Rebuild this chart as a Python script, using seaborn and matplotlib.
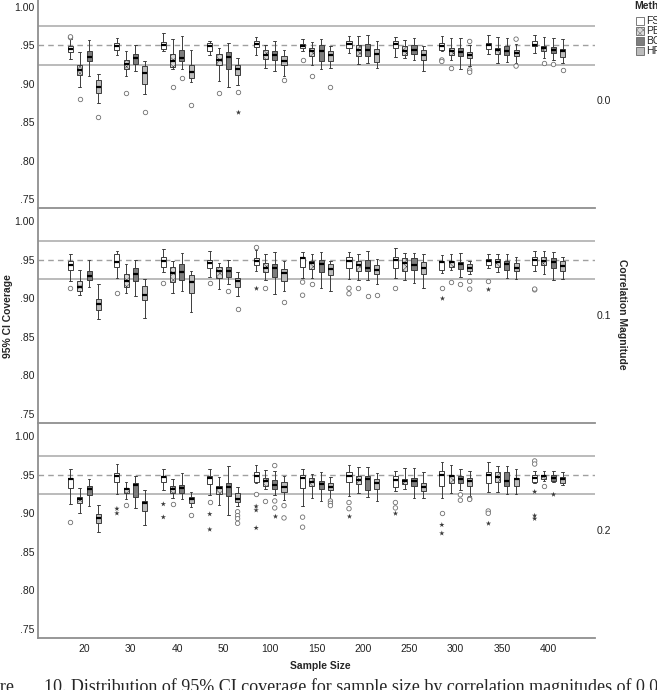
import numpy as np
import pandas as pd
import seaborn as sns
import matplotlib.pyplot as plt
from matplotlib.patches import Patch
from matplotlib.colors import to_rgba

sizes = ['20', '30', '40', '50', '100', '150', '200', '250', '300', '350', '400']
methods = ['FS', 'PB', 'BC', 'HP']
corr_labels = ['0.0', '0.1', '0.2']

# each box: (whisker low, q1, median, q3, whisker high), one per sample size
r00_fs = [(0.932, 0.941, 0.945, 0.949, 0.958), (0.937, 0.944, 0.949, 0.953, 0.959), (0.942, 0.945, 0.950, 0.954, 0.966),
          (0.938, 0.942, 0.949, 0.953, 0.956), (0.938, 0.948, 0.952, 0.955, 0.961), (0.942, 0.946, 0.949, 0.952, 0.958),
          (0.940, 0.947, 0.952, 0.955, 0.962), (0.935, 0.946, 0.952, 0.955, 0.961), (0.942, 0.944, 0.949, 0.953, 0.962),
          (0.939, 0.945, 0.950, 0.953, 0.964), (0.940, 0.949, 0.951, 0.955, 0.963)]
r00_pb = [(0.896, 0.911, 0.918, 0.925, 0.941), (0.910, 0.919, 0.926, 0.931, 0.942), (0.919, 0.922, 0.929, 0.939, 0.958),
          (0.903, 0.924, 0.931, 0.939, 0.947), (0.921, 0.932, 0.938, 0.944, 0.951), (0.925, 0.936, 0.942, 0.947, 0.954),
          (0.926, 0.936, 0.944, 0.950, 0.962), (0.933, 0.938, 0.943, 0.949, 0.957), (0.931, 0.938, 0.943, 0.947, 0.960),
          (0.927, 0.939, 0.944, 0.947, 0.961), (0.934, 0.942, 0.946, 0.949, 0.961)]
r00_bc = [(0.910, 0.929, 0.935, 0.943, 0.957), (0.917, 0.926, 0.933, 0.939, 0.951), (0.919, 0.930, 0.934, 0.944, 0.962),
          (0.896, 0.919, 0.935, 0.941, 0.953), (0.916, 0.931, 0.938, 0.943, 0.955), (0.919, 0.930, 0.942, 0.950, 0.958),
          (0.927, 0.936, 0.944, 0.952, 0.963), (0.931, 0.939, 0.944, 0.950, 0.959), (0.919, 0.936, 0.941, 0.947, 0.959),
          (0.928, 0.938, 0.942, 0.949, 0.959), (0.931, 0.940, 0.944, 0.948, 0.960)]
r00_hp = [(0.875, 0.888, 0.896, 0.905, 0.913), (0.887, 0.900, 0.914, 0.923, 0.929), (0.902, 0.907, 0.915, 0.924, 0.944),
          (0.898, 0.911, 0.919, 0.925, 0.934), (0.910, 0.924, 0.930, 0.936, 0.944), (0.921, 0.929, 0.937, 0.942, 0.949),
          (0.920, 0.928, 0.939, 0.945, 0.955), (0.916, 0.931, 0.938, 0.944, 0.949), (0.923, 0.933, 0.937, 0.941, 0.950),
          (0.927, 0.936, 0.940, 0.944, 0.952), (0.927, 0.935, 0.942, 0.945, 0.958)]
r00_out = [('20', 'FS', 0.960), ('20', 'FS', 0.961), ('20', 'PB', 0.880), ('20', 'HP', 0.857),
           ('30', 'PB', 0.888), ('30', 'HP', 0.864), ('40', 'PB', 0.896), ('40', 'BC', 0.908), ('40', 'HP', 0.873),
           ('50', 'PB', 0.888), ('50', 'HP', 0.889), ('100', 'HP', 0.905),
           ('150', 'FS', 0.931), ('150', 'PB', 0.910), ('150', 'HP', 0.896),
           ('300', 'FS', 0.931), ('300', 'FS', 0.929), ('300', 'PB', 0.920), ('300', 'HP', 0.955),
           ('300', 'HP', 0.918), ('300', 'HP', 0.915), ('350', 'HP', 0.958), ('350', 'HP', 0.923),
           ('400', 'PB', 0.927), ('400', 'BC', 0.926), ('400', 'HP', 0.918)]
r00_ext = [('50', 'HP', 0.864)]

r01_fs = [(0.923, 0.937, 0.943, 0.948, 0.957), (0.926, 0.941, 0.947, 0.958, 0.962), (0.934, 0.941, 0.949, 0.953, 0.964),
          (0.928, 0.940, 0.946, 0.950, 0.961), (0.935, 0.943, 0.948, 0.952, 0.963), (0.926, 0.941, 0.952, 0.954, 0.960),
          (0.925, 0.939, 0.948, 0.953, 0.960), (0.926, 0.939, 0.950, 0.954, 0.965), (0.933, 0.937, 0.947, 0.949, 0.956),
          (0.939, 0.943, 0.948, 0.951, 0.957), (0.936, 0.943, 0.950, 0.954, 0.962)]
r01_pb = [(0.904, 0.910, 0.915, 0.922, 0.937), (0.907, 0.915, 0.923, 0.931, 0.944), (0.907, 0.921, 0.933, 0.941, 0.949),
          (0.912, 0.927, 0.936, 0.941, 0.946), (0.924, 0.934, 0.939, 0.946, 0.958), (0.927, 0.938, 0.946, 0.949, 0.957),
          (0.924, 0.935, 0.943, 0.949, 0.958), (0.924, 0.936, 0.946, 0.952, 0.959), (0.937, 0.941, 0.947, 0.949, 0.958),
          (0.934, 0.941, 0.947, 0.951, 0.958), (0.931, 0.943, 0.949, 0.954, 0.961)]
r01_bc = [(0.915, 0.924, 0.929, 0.935, 0.950), (0.903, 0.923, 0.932, 0.939, 0.950), (0.909, 0.924, 0.934, 0.944, 0.959),
          (0.918, 0.928, 0.936, 0.941, 0.950), (0.906, 0.928, 0.939, 0.945, 0.960), (0.913, 0.934, 0.945, 0.950, 0.960),
          (0.924, 0.935, 0.939, 0.950, 0.962), (0.920, 0.937, 0.943, 0.952, 0.959), (0.928, 0.938, 0.944, 0.947, 0.959),
          (0.926, 0.937, 0.944, 0.949, 0.958), (0.924, 0.939, 0.947, 0.952, 0.960)]
r01_hp = [(0.873, 0.885, 0.893, 0.899, 0.919), (0.875, 0.898, 0.904, 0.916, 0.925), (0.882, 0.907, 0.921, 0.930, 0.936),
          (0.903, 0.915, 0.923, 0.926, 0.934), (0.910, 0.923, 0.933, 0.938, 0.949), (0.909, 0.930, 0.938, 0.944, 0.949),
          (0.919, 0.932, 0.937, 0.943, 0.951), (0.914, 0.932, 0.940, 0.947, 0.957), (0.931, 0.935, 0.940, 0.944, 0.949),
          (0.925, 0.936, 0.940, 0.946, 0.954), (0.925, 0.936, 0.942, 0.949, 0.954)]
r01_out = [('20', 'FS', 0.914), ('30', 'FS', 0.907), ('40', 'FS', 0.920), ('50', 'FS', 0.920), ('50', 'BC', 0.909),
           ('50', 'HP', 0.886), ('100', 'FS', 0.966), ('100', 'PB', 0.914), ('100', 'HP', 0.895),
           ('150', 'FS', 0.921), ('150', 'FS', 0.904), ('150', 'PB', 0.919),
           ('200', 'FS', 0.913), ('200', 'FS', 0.906), ('200', 'PB', 0.913), ('200', 'BC', 0.903), ('200', 'HP', 0.904),
           ('250', 'FS', 0.913), ('300', 'FS', 0.914), ('300', 'PB', 0.921), ('300', 'BC', 0.919),
           ('300', 'HP', 0.922), ('300', 'HP', 0.912), ('350', 'FS', 0.922), ('400', 'FS', 0.911), ('400', 'FS', 0.912)]
r01_ext = [('100', 'FS', 0.913), ('300', 'FS', 0.900), ('350', 'FS', 0.912)]

r02_fs = [(0.912, 0.933, 0.944, 0.946, 0.957), (0.925, 0.941, 0.948, 0.952, 0.964), (0.930, 0.941, 0.947, 0.949, 0.958),
          (0.924, 0.938, 0.946, 0.949, 0.958), (0.939, 0.941, 0.948, 0.953, 0.963), (0.910, 0.933, 0.946, 0.950, 0.958),
          (0.923, 0.941, 0.948, 0.953, 0.963), (0.929, 0.934, 0.943, 0.948, 0.955), (0.920, 0.936, 0.950, 0.955, 0.966),
          (0.928, 0.939, 0.950, 0.954, 0.966), (0.940, 0.941, 0.946, 0.950, 0.955)]
r02_pb = [(0.901, 0.913, 0.918, 0.921, 0.933), (0.918, 0.926, 0.931, 0.933, 0.941), (0.920, 0.927, 0.931, 0.936, 0.944),
          (0.911, 0.925, 0.933, 0.936, 0.947), (0.931, 0.935, 0.942, 0.946, 0.956), (0.920, 0.936, 0.941, 0.946, 0.951),
          (0.926, 0.938, 0.943, 0.949, 0.960), (0.932, 0.938, 0.942, 0.945, 0.959), (0.927, 0.940, 0.948, 0.950, 0.963),
          (0.928, 0.941, 0.947, 0.953, 0.961), (0.942, 0.944, 0.948, 0.950, 0.955)]
r02_bc = [(0.910, 0.924, 0.931, 0.936, 0.944), (0.907, 0.921, 0.937, 0.940, 0.948), (0.919, 0.926, 0.933, 0.937, 0.952),
          (0.898, 0.922, 0.934, 0.939, 0.962), (0.924, 0.932, 0.937, 0.943, 0.955), (0.916, 0.931, 0.938, 0.942, 0.953),
          (0.921, 0.930, 0.944, 0.949, 0.960), (0.920, 0.935, 0.942, 0.946, 0.959), (0.930, 0.940, 0.945, 0.949, 0.958),
          (0.925, 0.936, 0.942, 0.953, 0.962), (0.941, 0.942, 0.946, 0.950, 0.955)]
r02_hp = [(0.876, 0.887, 0.894, 0.899, 0.911), (0.885, 0.903, 0.913, 0.916, 0.930), (0.908, 0.913, 0.918, 0.921, 0.928),
          (0.910, 0.915, 0.919, 0.926, 0.934), (0.917, 0.928, 0.934, 0.941, 0.949), (0.917, 0.930, 0.934, 0.940, 0.947),
          (0.916, 0.931, 0.940, 0.945, 0.952), (0.920, 0.929, 0.934, 0.939, 0.953), (0.922, 0.936, 0.942, 0.946, 0.955),
          (0.925, 0.936, 0.944, 0.946, 0.957), (0.937, 0.940, 0.944, 0.947, 0.953)]
r02_out = [('20', 'FS', 0.889), ('30', 'PB', 0.911), ('40', 'PB', 0.912), ('40', 'HP', 0.898), ('50', 'FS', 0.915),
           ('50', 'HP', 0.902), ('50', 'HP', 0.897), ('50', 'HP', 0.893), ('50', 'HP', 0.887),
           ('100', 'FS', 0.925), ('100', 'PB', 0.916), ('100', 'BC', 0.962), ('100', 'BC', 0.916), ('100', 'BC', 0.907),
           ('100', 'HP', 0.910), ('100', 'HP', 0.894), ('150', 'FS', 0.895), ('150', 'FS', 0.882),
           ('150', 'HP', 0.916), ('150', 'HP', 0.913), ('150', 'HP', 0.910), ('200', 'FS', 0.914), ('200', 'FS', 0.906),
           ('250', 'FS', 0.914), ('250', 'FS', 0.907), ('300', 'FS', 0.900), ('300', 'BC', 0.924), ('300', 'BC', 0.917),
           ('300', 'HP', 0.919), ('300', 'HP', 0.918), ('350', 'FS', 0.903), ('350', 'FS', 0.900),
           ('400', 'FS', 0.968), ('400', 'FS', 0.964), ('400', 'PB', 0.935)]
r02_ext = [('30', 'FS', 0.906), ('30', 'FS', 0.900), ('40', 'FS', 0.912), ('40', 'FS', 0.895), ('50', 'FS', 0.899),
           ('50', 'FS', 0.879), ('100', 'FS', 0.909), ('100', 'FS', 0.904), ('100', 'FS', 0.881), ('100', 'BC', 0.897),
           ('200', 'FS', 0.896), ('250', 'FS', 0.900), ('300', 'FS', 0.885), ('300', 'FS', 0.874), ('350', 'FS', 0.887),
           ('400', 'FS', 0.928), ('400', 'FS', 0.897), ('400', 'FS', 0.893), ('400', 'BC', 0.925)]

box_colors = {'FS': '#ffffff', 'PB': '#d9d9d9', 'BC': '#7d7d7d', 'HP': '#bcbcbc'}


def box_frame(fs, pb, bc, hp):
    # five values per box, so quartiles land exactly on the read-off stats
    rows = []
    for method, boxes in zip(methods, [fs, pb, bc, hp]):
        for size, stats in zip(sizes, boxes):
            for v in stats:
                rows.append((size, method, v))
    return pd.DataFrame(rows, columns=['size', 'method', 'coverage'])


def point_frame(points):
    return pd.DataFrame(points, columns=['size', 'method', 'coverage'])


panels = [
    (box_frame(r00_fs, r00_pb, r00_bc, r00_hp), point_frame(r00_out), point_frame(r00_ext)),
    (box_frame(r01_fs, r01_pb, r01_bc, r01_hp), point_frame(r01_out), point_frame(r01_ext)),
    (box_frame(r02_fs, r02_pb, r02_bc, r02_hp), point_frame(r02_out), point_frame(r02_ext)),
]

sns.set_style('white')
plt.rcParams['font.family'] = ['Liberation Sans', 'DejaVu Sans']
plt.rcParams['hatch.linewidth'] = 0.35
plt.rcParams['hatch.color'] = '#777777'

W, H = 657, 690
fig = plt.figure(figsize=(W / 100, H / 100), dpi=100)
panel_px = [(-5.5, 208.5), (209, 423), (424, 638)]
gray = '#8f8f8f'

for i, ((df, out, ext), (top, bottom)) in enumerate(zip(panels, panel_px)):
    ax = fig.add_axes([38 / W, 1 - bottom / H, (595 - 38) / W, (bottom - top) / H])
    ax.axhline(0.975, color='#a8a8a8', lw=1.1, zorder=0)
    ax.axhline(0.925, color='#a8a8a8', lw=1.1, zorder=0)
    ax.axhline(0.95, color='#a0a0a0', lw=1.0, ls=(0, (4, 3)), zorder=0)

    sns.boxplot(data=df, x='size', y='coverage', hue='method', order=sizes, hue_order=methods,
                palette=box_colors, whis=(0, 100), width=0.8, gap=0.45, linewidth=0.7,
                linecolor='#3c3c3c', saturation=1, legend=False, ax=ax,
                medianprops=dict(color='black', linewidth=1.6))
    for p in ax.patches:
        if np.allclose(p.get_facecolor(), to_rgba(box_colors['PB'])):
            p.set_hatch('xxxxx')

    sns.stripplot(data=out, x='size', y='coverage', hue='method', order=sizes, hue_order=methods,
                  dodge=True, jitter=False, palette={m: 'white' for m in methods},
                  edgecolor='#707070', linewidth=0.6, size=3.2, legend=False, ax=ax)
    sns.stripplot(data=ext, x='size', y='coverage', hue='method', order=sizes, hue_order=methods,
                  dodge=True, jitter=False, palette={m: '#3a3a3a' for m in methods},
                  marker='*', size=4, linewidth=0, legend=False, ax=ax)

    ax.set_xlim(-1, 11)
    ax.set_ylim(0.738, 1.016)
    ax.set_yticks([0.75, 0.80, 0.85, 0.90, 0.95, 1.00])
    ax.set_yticklabels(['.75', '.80', '.85', '.90', '.95', '1.00'])
    ax.set_xlabel('')
    ax.set_ylabel('')
    ax.tick_params(axis='both', length=0, labelsize=7.5, colors='#222222')
    ax.tick_params(axis='y', pad=2.5)
    ax.tick_params(axis='x', pad=4)
    if i < 2:
        ax.set_xticklabels([])
    for side in ['top', 'right']:
        ax.spines[side].set_visible(False)
    for side in ['left', 'bottom']:
        ax.spines[side].set_color(gray)
        ax.spines[side].set_linewidth(1.3)

    fig.text(597 / W, 1 - (top + bottom) / 2 / H, corr_labels[i], fontsize=7.5,
             ha='left', va='center', color='#222222')

fig.text(8 / W, 1 - 316 / H, '95% CI Coverage', rotation=90, fontsize=7.5,
         fontweight='bold', ha='center', va='center')
fig.text(622 / W, 1 - 314 / H, 'Correlation Magnitude', rotation=-90, fontsize=7.5,
         fontweight='bold', ha='center', va='center')
fig.text(320 / W, 1 - 666 / H, 'Sample Size', fontsize=7.5, fontweight='bold',
         ha='center', va='center')

# legend: title as its own text, entries below with a little gap
fig.text(634 / W, 1 - 6 / H, 'Method', fontsize=7.5, fontweight='bold', ha='left', va='center')
handles = [Patch(facecolor=box_colors[m], edgecolor='#666666', linewidth=0.6,
                 hatch='xxxxx' if m == 'PB' else None) for m in methods]
fig.legend(handles, methods, loc='upper left', bbox_to_anchor=(636 / W, 1 - 16.5 / H),
           frameon=False, fontsize=7.5, handlelength=0.8, handleheight=0.8,
           handletextpad=0.2, labelspacing=0.0, borderaxespad=0, borderpad=0)

fig.text(15 / W, -2 / H, 'Figure', fontsize=13, family='Liberation Serif',
         ha='right', va='baseline')
fig.text(44 / W, -2 / H, '10. Distribution of 95% CI coverage for sample size by correlation magnitudes of 0.0, 0.1, and 0.2',
         fontsize=13, family='Liberation Serif', ha='left', va='baseline')

fig.savefig('out.png', dpi=100)
